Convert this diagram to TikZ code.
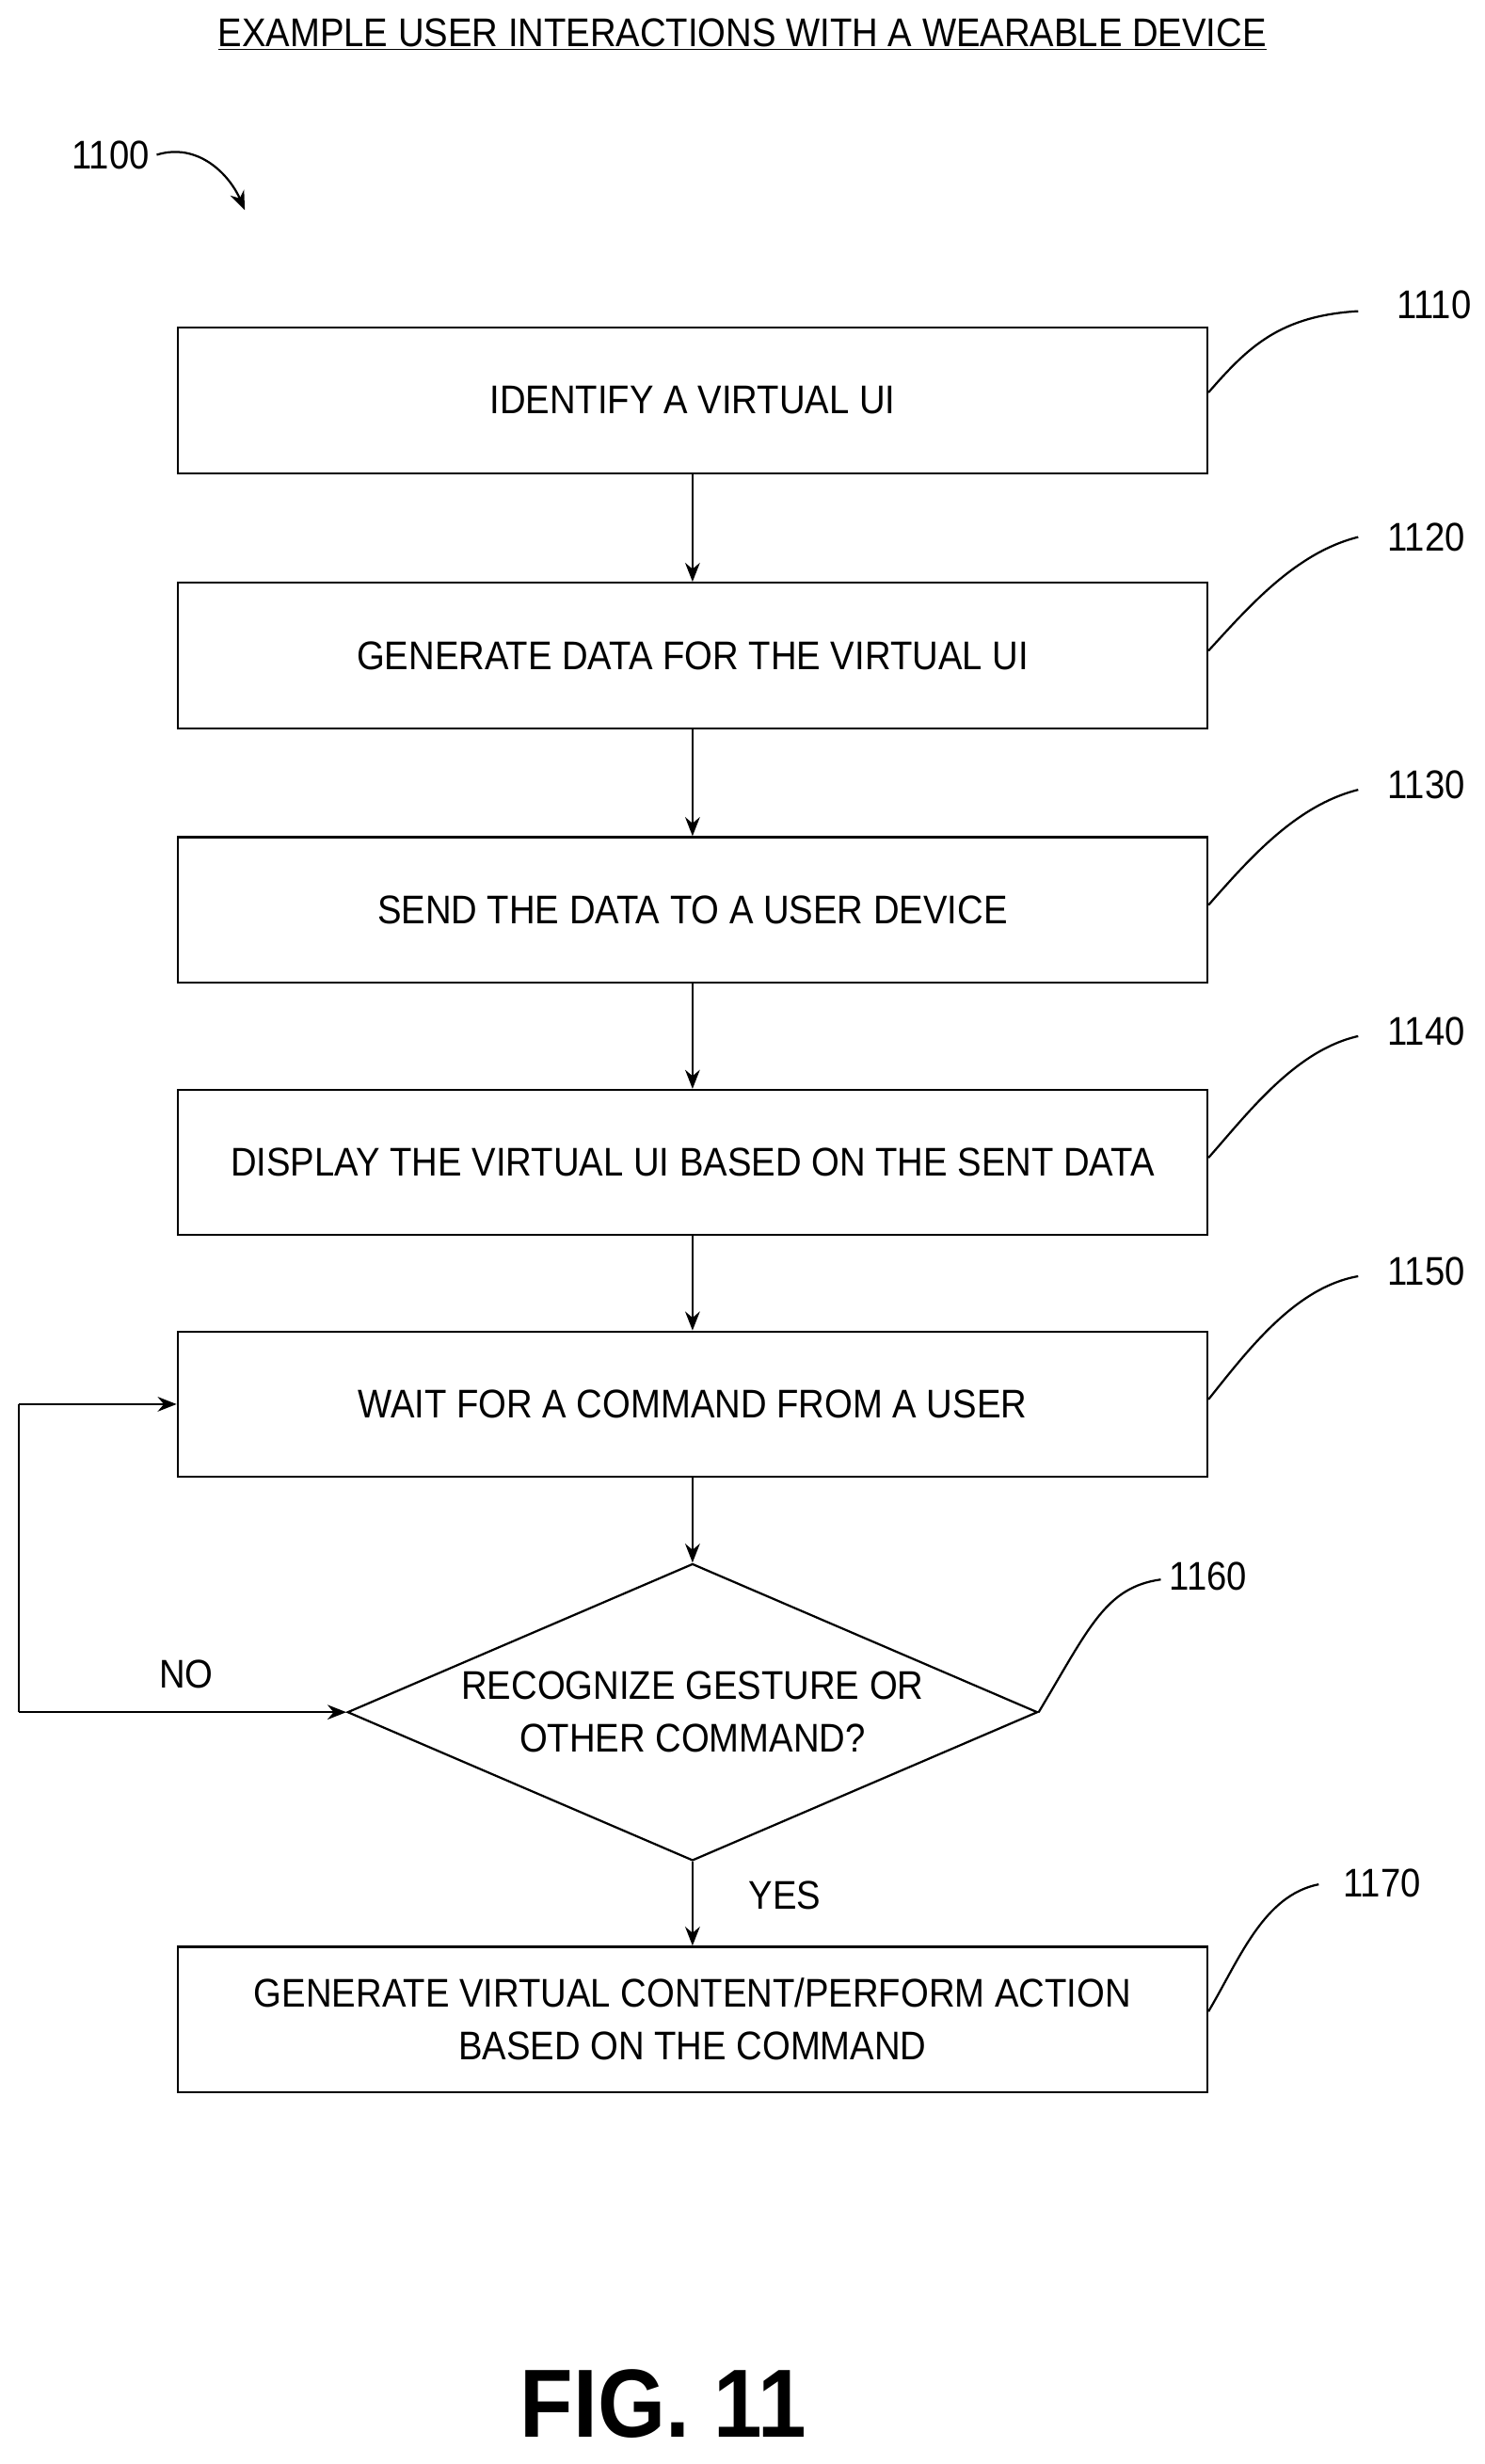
\documentclass[tikz,border=0pt]{standalone}
\usepackage{fontspec}
\setmainfont[FakeStretch=0.9]{Liberation Sans}
\usetikzlibrary{arrows.meta,shapes.geometric}
\begin{document}
\begin{tikzpicture}[x=0.75pt,y=-0.75pt,
  box/.style={draw,line width=1pt,minimum width=489pt,minimum height=69pt,align=center,font=\fontsize{19}{25}\selectfont},
  arr/.style={-{Stealth[length=9pt,width=7pt]},line width=1pt},
  lab/.style={font=\fontsize{19}{23}\selectfont},
  lead/.style={line width=1pt}]
\useasboundingbox (0,0) rectangle (940,1560);
\node[font=\fontsize{19}{23}\selectfont] (title) at (470,22) {\underline{EXAMPLE USER INTERACTIONS WITH A WEARABLE DEVICE}};
\node[lab] (l1100) at (70,98) {1100};
\coordinate (a1100) at (155,133);
\draw[arr] (l1100.east) .. controls (125,90) and (145,110) .. (a1100);
\node[box] (b1) at (438.5,253.5) {IDENTIFY A VIRTUAL UI};
\node[box] (b2) at (438.5,415) {GENERATE DATA FOR THE VIRTUAL UI};
\node[box] (b3) at (438.5,576) {SEND THE DATA TO A USER DEVICE};
\node[box] (b4) at (438.5,736) {DISPLAY THE VIRTUAL UI BASED ON THE SENT DATA};
\node[box] (b5) at (438.5,889) {WAIT FOR A COMMAND FROM A USER};
\node[diamond,draw,line width=1pt,aspect=2.32,minimum width=327.75pt,minimum height=141pt,inner sep=0pt,align=center,font=\fontsize{19}{25}\selectfont] (d6) at (438.5,1084) {RECOGNIZE GESTURE OR\\OTHER COMMAND?};
\node[box] (b7) at (438.5,1278.5) {GENERATE VIRTUAL CONTENT/PERFORM ACTION\\BASED ON THE COMMAND};
\draw[arr] (b1) -- (b2);
\draw[arr] (b2) -- (b3);
\draw[arr] (b3) -- (b4);
\draw[arr] (b4) -- (b5);
\draw[arr] (b5) -- (d6);
\draw[arr] (d6) -- (b7);
\coordinate (c1) at (12,1084);
\coordinate (c2) at (12,889);
\draw[arr] (c2) -- (b5.west);
\draw[line width=1pt] (c1) -- (c2);
\draw[arr] (c1) -- (d6.west);
\node[lab] (no) at (118,1060) {NO};
\node[lab] (yes) at (497,1200) {YES};
\node[lab] (n1110) at (908,193) {1110};
\node[lab] (n1120) at (903,340) {1120};
\node[lab] (n1130) at (903,497) {1130};
\node[lab] (n1140) at (903,653) {1140};
\node[lab] (n1150) at (903,805) {1150};
\node[lab] (n1160) at (765,998) {1160};
\node[lab] (n1170) at (875,1192) {1170};
\draw[lead] (b1.east) ++(0,-5) .. controls (790,220) and (810,200) .. (860,197);
\draw[lead] (b2.east) ++(0,-3) .. controls (790,385) and (820,350) .. (860,340);
\draw[lead] (b3.east) ++(0,-3) .. controls (790,545) and (820,510) .. (860,500);
\draw[lead] (b4.east) ++(0,-3) .. controls (790,705) and (820,665) .. (860,656);
\draw[lead] (b5.east) ++(0,-3) .. controls (790,855) and (820,815) .. (860,808);
\draw[lead] (d6.east) .. controls (690,1030) and (700,1005) .. (735,1000);
\draw[lead] (b7.east) ++(0,-5) .. controls (785,1240) and (800,1200) .. (835,1193);
\node[font=\fontsize{46}{52}\selectfont\bfseries] (fig) at (420,1522) {FIG. 11};
\end{tikzpicture}
\end{document}
